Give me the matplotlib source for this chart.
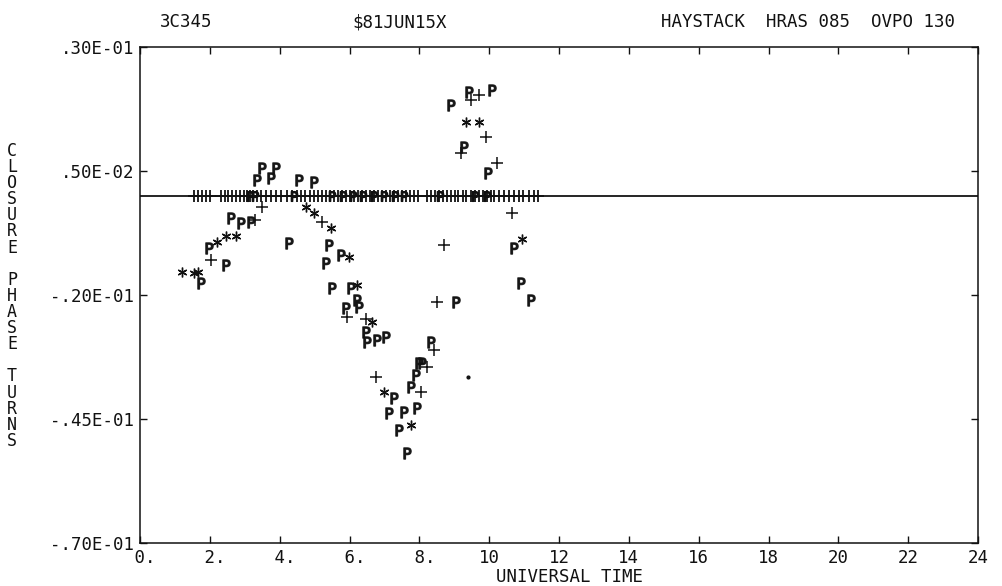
import matplotlib
matplotlib.use('Agg')
import matplotlib.pyplot as plt

plt.rcParams['font.family'] = ['DejaVu Sans Mono', 'DejaVu Sans']

# closure phase (turns) vs universal time (hours)
# 'P' symbols
p_time = [1.74, 1.97, 2.46, 2.60, 2.89, 3.18, 3.49, 3.89, 3.35, 3.75, 4.26, 4.55, 4.98,
          5.41, 5.75, 5.32, 5.49, 6.04, 6.21, 5.89, 6.26, 6.46, 6.78, 7.04, 6.49,
          9.04, 8.32, 7.98, 8.07, 7.89, 7.75, 7.27, 7.12, 7.55, 7.92, 7.41, 7.64,
          8.90, 9.41, 10.07, 9.27, 9.98, 10.70, 10.90, 11.21]
p_phase = [-0.0176, -0.0105, -0.0139, -0.0045, -0.0055, -0.0053, 0.0056, 0.0056, 0.0032, 0.0036,
           -0.0095, 0.0032, 0.0028, -0.0099, -0.0119, -0.0135, -0.0186, -0.0186, -0.0210, -0.0226,
           -0.0224, -0.0275, -0.0291, -0.0285, -0.0295, -0.0214, -0.0295, -0.0337, -0.0337, -0.0361,
           -0.0385, -0.0408, -0.0438, -0.0436, -0.0428, -0.0472, -0.0519, 0.0183, 0.0209, 0.0213,
           0.0098, 0.0046, -0.0105, -0.0176, -0.0210]

# '+' symbols
plus_time = [2.03, 3.29, 3.49, 5.21, 5.92, 6.46, 6.75, 8.50, 8.41, 8.21, 8.04, 8.70,
             9.18, 9.47, 9.70, 9.90, 10.21, 10.64]
plus_phase = [-0.0129, -0.0049, -0.0023, -0.0053, -0.0244, -0.0248, -0.0365, -0.0214, -0.0311,
              -0.0345, -0.0396, -0.0099, 0.0086, 0.0193, 0.0203, 0.0119, 0.0066, -0.0035]

# '*' symbols
star_time = [1.20, 1.54, 1.66, 2.20, 2.46, 2.75, 4.75, 4.98, 5.46, 5.98, 6.21, 6.64,
             6.98, 7.75, 9.35, 9.70, 10.93]
star_phase = [-0.0154, -0.0156, -0.0154, -0.0093, -0.0081, -0.0081, -0.0023, -0.0035, -0.0065,
              -0.0123, -0.0180, -0.0254, -0.0396, -0.0462, 0.0149, 0.0149, -0.0087]

# points sitting on the zero line
zero_time = [1.54, 1.66, 1.77, 1.89, 2.00, 2.32, 2.43, 2.52, 2.63, 2.75, 2.86, 2.97, 3.06,
             3.15, 3.23, 3.35, 3.46, 3.60, 3.75, 3.89, 4.03, 4.20, 4.35, 4.49, 4.61, 4.72,
             4.86, 4.98, 5.09, 5.21, 5.32, 5.43, 5.55, 5.66, 5.78, 5.89, 6.01, 6.12, 6.24,
             6.35, 6.46, 6.58, 6.69, 6.81, 6.92, 7.04, 7.15, 7.27, 7.38, 7.49, 7.61, 7.72,
             7.84, 7.95, 8.21, 8.32, 8.44, 8.55, 8.67, 8.78, 8.90, 9.01, 9.12, 9.24, 9.35,
             9.47, 9.58, 9.70, 9.81, 9.93, 10.04, 10.15, 10.27, 10.41, 10.56, 10.70, 10.84,
             10.98, 11.13, 11.27, 11.41]
zero_p_time = [3.15, 3.30, 4.40, 5.50, 5.80, 6.10, 6.40, 6.70, 7.00, 7.30, 7.55, 8.60,
               9.60, 9.95]

dot_time = [9.38]
dot_phase = [-0.0365]

xticks = [0, 2, 4, 6, 8, 10, 12, 14, 16, 18, 20, 22, 24]
xtick_labels = [' 0.', ' 2.', ' 4.', ' 6.', ' 8.', '10', '12', '14', '16', '18', '20', '22', '24']
yticks = [0.030, 0.005, -0.020, -0.045, -0.070]
ytick_labels = ['.30E-01', '.50E-02', '-.20E-01', '-.45E-01', '-.70E-01']

fig = plt.figure(figsize=(10.03, 5.86), dpi=100)
ax = fig.add_axes([0.1396, 0.0734, 0.8355, 0.8464])

ax.axhline(0, color='black', lw=1.2, zorder=1)

ink = '#111111'
ax.plot(zero_time, [0] * len(zero_time), ls='none', marker='+', ms=9, mew=1.3, color=ink)
ax.plot(zero_p_time, [0] * len(zero_p_time), ls='none', marker=r'$\mathrm{P}$', ms=7, color=ink)
ax.plot(p_time, p_phase, ls='none', marker=r'$\mathrm{P}$', ms=8, color=ink, alpha=0.9)
ax.plot(plus_time, plus_phase, ls='none', marker='+', ms=8, mew=1.1, color=ink)
ax.plot(star_time, star_phase, ls='none', marker=(6, 2, 0), ms=7, mew=1.0, color=ink)
ax.plot(dot_time, dot_phase, ls='none', marker='o', ms=2, color=ink)

ax.set_xlim(0, 24)
ax.set_ylim(-0.070, 0.030)
ax.set_xticks(xticks)
ax.set_xticklabels(xtick_labels)
ax.set_yticks(yticks)
ax.set_yticklabels(ytick_labels)
ax.tick_params(direction='in', length=5, width=1, top=True, right=True,
               labelsize=12.5, colors=ink, pad=4)
for s in ax.spines.values():
    s.set_linewidth(1.1)
    s.set_color(ink)

ax.set_xlabel('UNIVERSAL TIME', fontsize=12.5, color=ink, labelpad=1)
ax.xaxis.set_label_coords(0.513, -0.05)

# header line
fig.text(160 / 1003, 1 - 22 / 586, '3C345', fontsize=12.5, va='center', color=ink)
fig.text(352 / 1003, 1 - 22 / 586, '\\$81JUN15X', fontsize=12.5, va='center', color=ink)
fig.text(955 / 1003, 1 - 22 / 586, 'HAYSTACK  HRAS 085  OVPO 130', fontsize=12.5,
         va='center', ha='right', color=ink)

# stacked vertical y label
ylabel = 'CLOSURE PHASE TURNS'
for i, ch in enumerate(ylabel):
    fig.text(12 / 1003, 1 - (151 + i * 16.1) / 586, ch, fontsize=12, ha='center',
             va='center', color=ink)

fig.savefig('out.png', dpi=100)
